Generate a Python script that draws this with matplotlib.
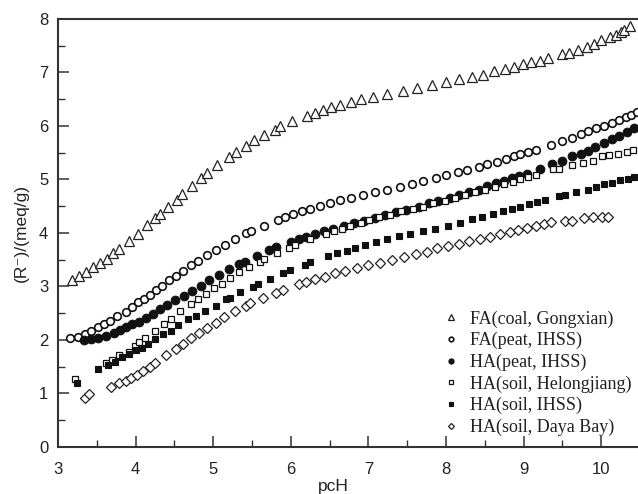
import matplotlib
matplotlib.use("Agg")
import matplotlib.pyplot as plt
from matplotlib.ticker import MultipleLocator

# ---- data ----
fa_coal_x = [3.18, 3.27, 3.36, 3.45, 3.54, 3.63, 3.71, 3.79, 3.91, 4.03, 4.15, 4.25, 4.31, 4.42, 4.53,
             4.60, 4.73, 4.84, 4.92, 5.05, 5.20, 5.30, 5.42, 5.53, 5.65, 5.80, 5.86, 6.02,
             6.205, 6.31, 6.415, 6.52, 6.64, 6.77, 6.90, 7.06, 7.24, 7.44, 7.63, 7.82, 8.00, 8.17,
             8.34, 8.48, 8.62, 8.76, 8.88, 8.99, 9.10, 9.21, 9.31, 9.50, 9.58, 9.70, 9.82, 9.91,
             10.00, 10.11, 10.19, 10.26, 10.30, 10.37]
fa_coal_y = [3.12, 3.20, 3.27, 3.37, 3.44, 3.52, 3.62, 3.70, 3.84, 3.98, 4.14, 4.28, 4.35, 4.48, 4.62,
             4.72, 4.88, 5.02, 5.12, 5.27, 5.42, 5.51, 5.62, 5.73, 5.83, 5.92, 5.99, 6.10,
             6.19, 6.24, 6.30, 6.35, 6.39, 6.44, 6.50, 6.55, 6.60, 6.66, 6.71, 6.76, 6.82, 6.87,
             6.92, 6.96, 7.02, 7.07, 7.10, 7.15, 7.19, 7.22, 7.27, 7.35, 7.36, 7.42, 7.48, 7.53,
             7.60, 7.66, 7.71, 7.75, 7.80, 7.87]

fa_peat_x = [3.16, 3.26, 3.35, 3.43, 3.52, 3.59, 3.67, 3.76, 3.87, 3.95, 4.03, 4.11, 4.19, 4.26, 4.34,
             4.43, 4.52, 4.61, 4.72, 4.81, 4.92, 5.04, 5.15, 5.28, 5.42, 5.49, 5.65, 5.84, 5.93,
             6.03, 6.14, 6.25, 6.37, 6.50, 6.64, 6.78, 6.93, 7.09, 7.24, 7.41, 7.56, 7.71, 7.87,
             8.00, 8.15, 8.27, 8.42, 8.53, 8.66, 8.77, 8.87, 8.96, 9.06, 9.16, 9.35, 9.49, 9.62,
             9.74, 9.83, 9.93, 10.03, 10.14, 10.23, 10.32, 10.39, 10.46]
fa_peat_y = [2.04, 2.06, 2.11, 2.16, 2.23, 2.30, 2.36, 2.44, 2.52, 2.61, 2.71, 2.77, 2.84, 2.93, 3.00,
             3.11, 3.19, 3.29, 3.39, 3.48, 3.58, 3.68, 3.78, 3.88, 3.99, 4.04, 4.13, 4.24, 4.29,
             4.35, 4.40, 4.45, 4.50, 4.55, 4.61, 4.65, 4.70, 4.76, 4.80, 4.86, 4.91, 4.97, 5.02,
             5.08, 5.13, 5.17, 5.24, 5.28, 5.33, 5.38, 5.43, 5.48, 5.52, 5.55, 5.64, 5.72, 5.78,
             5.84, 5.90, 5.96, 6.00, 6.06, 6.12, 6.17, 6.21, 6.26]

ha_peat_x = [3.34, 3.43, 3.52, 3.62, 3.72, 3.80, 3.87, 3.96, 4.05, 4.13, 4.23, 4.31, 4.41, 4.51, 4.62,
             4.73, 4.84, 4.95, 5.07, 5.20, 5.33, 5.41, 5.57, 5.72, 5.81, 6.00, 6.10, 6.20, 6.31,
             6.43, 6.55, 6.69, 6.81, 6.94, 7.08, 7.22, 7.36, 7.49, 7.65, 7.78, 7.90,
             8.05, 8.17, 8.30, 8.42, 8.53, 8.65, 8.75, 8.85, 8.94, 9.04, 9.21, 9.36, 9.50, 9.63,
             9.74, 9.83, 9.92, 10.04, 10.14, 10.23, 10.33, 10.42]
ha_peat_y = [2.00, 2.01, 2.03, 2.07, 2.12, 2.18, 2.23, 2.30, 2.34, 2.40, 2.48, 2.57, 2.65, 2.74, 2.82,
             2.92, 3.00, 3.12, 3.21, 3.32, 3.42, 3.46, 3.57, 3.67, 3.73, 3.83, 3.88, 3.93, 3.98,
             4.03, 4.08, 4.13, 4.18, 4.23, 4.28, 4.34, 4.39, 4.43, 4.49, 4.55, 4.60,
             4.66, 4.71, 4.76, 4.81, 4.88, 4.93, 4.97, 5.02, 5.07, 5.11, 5.19, 5.29, 5.34, 5.43,
             5.47, 5.54, 5.60, 5.68, 5.75, 5.81, 5.89, 5.96]

ha_hel_x = [3.22, 3.62, 3.70, 3.78, 3.92, 3.99, 4.05, 4.12, 4.25, 4.36, 4.45, 4.57, 4.71, 4.80, 4.91,
            5.01, 5.11, 5.22, 5.33, 5.46, 5.60, 5.66, 5.82, 5.98, 6.05, 6.25, 6.45, 6.56, 6.66,
            6.76, 6.90, 7.01, 7.14, 7.28, 7.42, 7.57, 7.71, 7.83, 7.99, 8.12, 8.24, 8.37, 8.50,
            8.63, 8.75, 8.86, 8.96, 9.06, 9.16, 9.38, 9.46, 9.63, 9.77, 9.90, 10.01, 10.10,
            10.22, 10.33, 10.41]
ha_hel_y = [1.27, 1.57, 1.62, 1.72, 1.78, 1.89, 1.96, 2.04, 2.17, 2.30, 2.38, 2.53, 2.66, 2.76, 2.86,
            2.96, 3.04, 3.16, 3.26, 3.37, 3.46, 3.51, 3.63, 3.72, 3.77, 3.89, 3.98, 4.04, 4.08,
            4.13, 4.19, 4.24, 4.29, 4.34, 4.40, 4.44, 4.49, 4.55, 4.60, 4.65, 4.71, 4.77, 4.81,
            4.86, 4.91, 4.96, 5.01, 5.05, 5.08, 5.19, 5.19, 5.26, 5.30, 5.35, 5.43, 5.45,
            5.48, 5.52, 5.55]

ha_soil_x = [3.24, 3.51, 3.65, 3.74, 3.83, 3.91, 4.00, 4.08, 4.16, 4.25, 4.35, 4.45, 4.55, 4.67, 4.78,
             4.89, 5.03, 5.16, 5.22, 5.35, 5.51, 5.58, 5.73, 5.90, 5.99, 6.18, 6.25, 6.48, 6.60,
             6.72, 6.83, 6.96, 7.10, 7.24, 7.39, 7.53, 7.70, 7.86, 8.03, 8.18, 8.33, 8.47, 8.61,
             8.73, 8.85, 8.96, 9.07, 9.17, 9.28, 9.46, 9.53, 9.67, 9.83, 9.93, 10.04, 10.14,
             10.24, 10.34, 10.42]
ha_soil_y = [1.20, 1.45, 1.52, 1.58, 1.67, 1.74, 1.81, 1.85, 1.93, 2.01, 2.10, 2.17, 2.28, 2.38, 2.45,
             2.54, 2.63, 2.76, 2.79, 2.89, 2.99, 3.04, 3.14, 3.24, 3.30, 3.40, 3.46, 3.56, 3.62,
             3.66, 3.72, 3.77, 3.82, 3.88, 3.94, 3.98, 4.04, 4.07, 4.13, 4.19, 4.26, 4.29, 4.35,
             4.40, 4.44, 4.49, 4.54, 4.57, 4.61, 4.68, 4.70, 4.77, 4.80, 4.85, 4.91, 4.94,
             4.98, 5.00, 5.04]

ha_daya_x = [3.35, 3.40, 3.68, 3.79, 3.87, 3.94, 4.02, 4.10, 4.18, 4.25, 4.39, 4.52, 4.61, 4.72, 4.82,
             4.92, 5.03, 5.14, 5.28, 5.42, 5.47, 5.64, 5.81, 5.90, 6.10, 6.20, 6.31, 6.44, 6.57,
             6.70, 6.85, 7.00, 7.15, 7.31, 7.46, 7.61, 7.76, 7.89, 8.03, 8.17, 8.30, 8.44, 8.57,
             8.70, 8.82, 8.93, 9.05, 9.16, 9.26, 9.35, 9.53, 9.62, 9.78, 9.89, 10.01, 10.09]
ha_daya_y = [0.92, 0.99, 1.12, 1.19, 1.23, 1.28, 1.35, 1.42, 1.50, 1.57, 1.71, 1.83, 1.93, 2.04, 2.13,
             2.22, 2.32, 2.42, 2.53, 2.63, 2.68, 2.79, 2.87, 2.93, 3.04, 3.09, 3.14, 3.18, 3.24,
             3.29, 3.35, 3.40, 3.44, 3.50, 3.55, 3.60, 3.65, 3.71, 3.76, 3.79, 3.84, 3.89, 3.92,
             3.97, 4.02, 4.05, 4.09, 4.13, 4.17, 4.20, 4.23, 4.23, 4.27, 4.29, 4.30, 4.30]

labels = ["FA(coal, Gongxian)", "FA(peat, IHSS)", "HA(peat, IHSS)",
          "HA(soil, Helongjiang)", "HA(soil, IHSS)", "HA(soil, Daya Bay)"]
x_ticks = [3, 4, 5, 6, 7, 8, 9, 10]
y_ticks = [0, 1, 2, 3, 4, 5, 6, 7, 8]

plt.rcParams['font.family'] = ['Liberation Sans', 'DejaVu Sans']
fig = plt.figure(figsize=(6.38, 4.94), dpi=100)
ax = fig.add_axes([58/638, 1 - 446.7/494, 1 - 58/638, (446.7 - 19)/494])

spine_c = '#333333'
series = [
    (fa_coal_x, fa_coal_y, dict(marker='^', mfc='white', mec='#222222', ms=6.5, mew=0.9)),
    (fa_peat_x, fa_peat_y, dict(marker='o', mfc='white', mec='#111111', ms=5.5, mew=1.2)),
    (ha_peat_x, ha_peat_y, dict(marker='o', mfc='#111111', mec='#111111', ms=6.2, mew=0.8)),
    (ha_hel_x, ha_hel_y, dict(marker='s', mfc='white', mec='#111111', ms=5.0, mew=0.9)),
    (ha_soil_x, ha_soil_y, dict(marker='s', mfc='#111111', mec='#111111', ms=5.0, mew=0.8)),
    (ha_daya_x, ha_daya_y, dict(marker='D', mfc='white', mec='#222222', ms=5.0, mew=0.9)),
]
handles = []
for (xs, ys, st), lab in zip(series, labels):
    h, = ax.plot(xs, ys, linestyle='none', label=lab, clip_on=False, **st)
    handles.append(h)

ax.set_xlim(3, 3 + (638 - 58) / 77.6)
ax.set_ylim(0, 8)
ax.set_xticks(x_ticks)
ax.set_yticks(y_ticks)
ax.xaxis.set_minor_locator(MultipleLocator(0.5))
ax.yaxis.set_minor_locator(MultipleLocator(0.5))
ax.tick_params(which='major', direction='in', length=8, width=1.1, colors=spine_c,
               labelsize=12, labelcolor='#222222')
ax.tick_params(axis='y', which='major', pad=7)
ax.tick_params(axis='x', which='major', pad=11)
ax.tick_params(which='minor', direction='in', length=5, width=1.0, colors=spine_c)
ax.tick_params(top=False, right=False, which='both')
for s in ['left', 'bottom', 'top']:
    ax.spines[s].set_linewidth(1.5)
    ax.spines[s].set_color(spine_c)
ax.spines['right'].set_visible(False)

ax.set_xlabel('pcH', fontsize=12.5, color='#222222')
ax.xaxis.set_label_coords((333 - 58) / 580, (446.7 - 479) / 427.7)
ax.set_ylabel('(R⁻)/(meq/g)', fontsize=12.5, color='#222222', labelpad=7.5)

leg = ax.legend(handles=handles, loc='lower right', frameon=False, markerscale=0.6,
                prop={'family': 'Liberation Serif', 'size': 13}, handlelength=1.2,
                handletextpad=0.4, labelspacing=0.24, borderaxespad=0.0, borderpad=0.0,
                bbox_to_anchor=((631 - 58) / 580, 0.025))
for t in leg.get_texts():
    t.set_color('#222222')

fig.savefig('out.png', dpi=100)
